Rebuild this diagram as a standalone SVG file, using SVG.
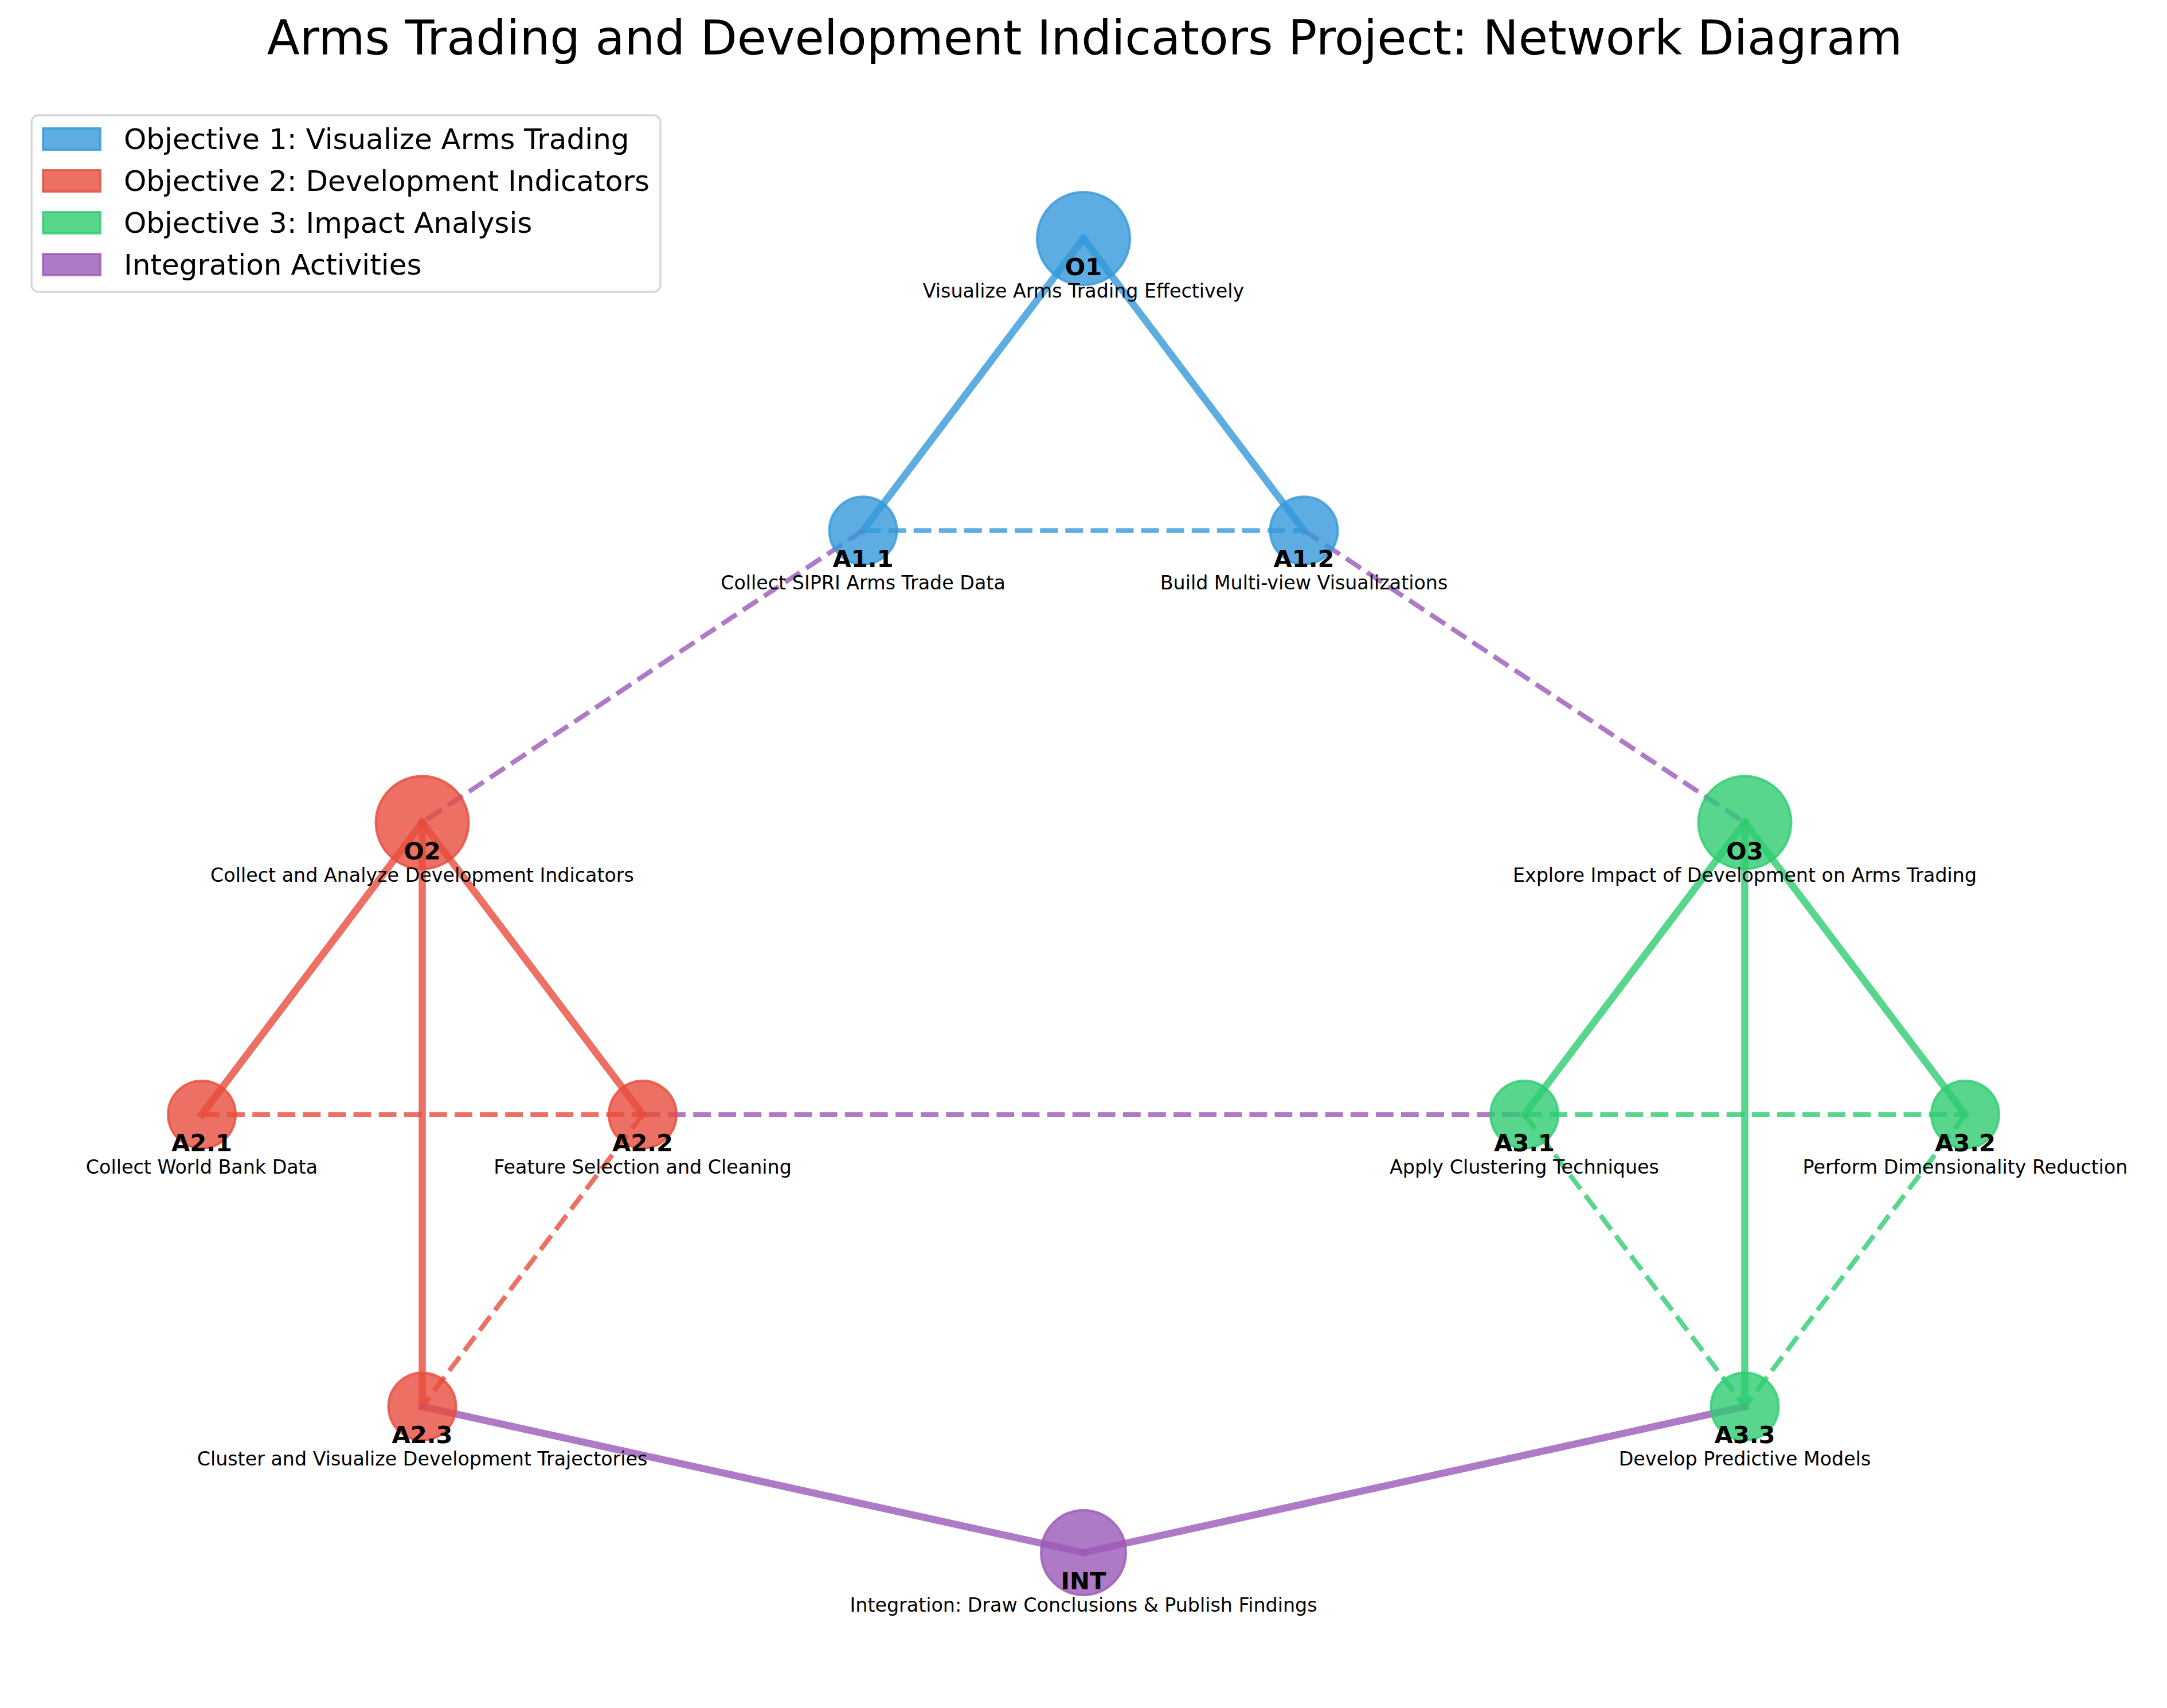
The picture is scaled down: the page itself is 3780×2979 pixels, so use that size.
<svg xmlns="http://www.w3.org/2000/svg" width="3780" height="2979" viewBox="0 0 3780 2979">
<style>
.bg{fill:#ffffff}
.title{font-family:"DejaVu Sans",sans-serif;font-size:83.3px;fill:#000;text-anchor:middle}
.id{font-family:"DejaVu Sans",sans-serif;font-size:41.7px;font-weight:bold;fill:#000;text-anchor:middle}
.desc{font-family:"DejaVu Sans",sans-serif;font-size:33.3px;fill:#000;text-anchor:middle}
.leg{font-family:"DejaVu Sans",sans-serif;font-size:50px;fill:#000}
.solid{fill:none;stroke-width:12.5;stroke-opacity:0.8;stroke-linecap:square}
.dash{fill:none;stroke-width:8.33;stroke-opacity:0.8;stroke-dasharray:30.8 13.3;stroke-linecap:butt}
.blue{stroke:#3498db}
.red{stroke:#e74c3c}
.green{stroke:#2ecc71}
.purple{stroke:#9b59b6}
.nb{fill:#3498db;stroke:#3498db}
.nr{fill:#e74c3c;stroke:#e74c3c}
.ng{fill:#2ecc71;stroke:#2ecc71}
.np{fill:#9b59b6;stroke:#9b59b6}
.node{fill-opacity:0.8;stroke-opacity:0.8;stroke-width:4}
</style>
<rect class="bg" x="0" y="0" width="3780" height="2979"/>
<text class="title" x="1892" y="95">Arms Trading and Development Indicators Project: Network Diagram</text>
<g id="connectors">
<line class="solid blue" x1="1890" y1="416" x2="1505.5" y2="925.3"/>
<line class="solid blue" x1="1890" y1="416" x2="2274.5" y2="925.3"/>
<line class="dash blue" x1="1505.5" y1="925.3" x2="2274.5" y2="925.3"/>
<line class="dash purple" x1="1505.5" y1="925.3" x2="736.5" y2="1434.6"/>
<line class="dash purple" x1="2274.5" y1="925.3" x2="3043.5" y2="1434.6"/>
<line class="solid red" x1="736.5" y1="1434.6" x2="352" y2="1943.9"/>
<line class="solid red" x1="736.5" y1="1434.6" x2="1121" y2="1943.9"/>
<line class="solid red" x1="736.5" y1="1434.6" x2="736.5" y2="2453.2"/>
<line class="dash red" x1="352" y1="1943.9" x2="1121" y2="1943.9"/>
<line class="dash red" x1="1121" y1="1943.9" x2="736.5" y2="2453.2"/>
<line class="dash purple" x1="1121" y1="1943.9" x2="2659" y2="1943.9"/>
<line class="solid green" x1="3043.5" y1="1434.6" x2="2659" y2="1943.9"/>
<line class="solid green" x1="3043.5" y1="1434.6" x2="3428" y2="1943.9"/>
<line class="solid green" x1="3043.5" y1="1434.6" x2="3043.5" y2="2453.2"/>
<line class="dash green" x1="2659" y1="1943.9" x2="3428" y2="1943.9"/>
<line class="dash green" x1="2659" y1="1943.9" x2="3043.5" y2="2453.2"/>
<line class="dash green" x1="3428" y1="1943.9" x2="3043.5" y2="2453.2"/>
<line class="solid purple" x1="736.5" y1="2453.2" x2="1890" y2="2707.9"/>
<line class="solid purple" x1="3043.5" y1="2453.2" x2="1890" y2="2707.9"/>
</g>
<g id="node-O1"><circle class="node nb" cx="1890" cy="416" r="81"/><text class="id" x="1890" y="480">O1</text><text class="desc" x="1890" y="519">Visualize Arms Trading Effectively</text></g>
<g id="node-A1.1"><circle class="node nb" cx="1505.5" cy="925.3" r="59"/><text class="id" x="1505.5" y="989.3">A1.1</text><text class="desc" x="1505.5" y="1028.3">Collect SIPRI Arms Trade Data</text></g>
<g id="node-A1.2"><circle class="node nb" cx="2274.5" cy="925.3" r="59"/><text class="id" x="2274.5" y="989.3">A1.2</text><text class="desc" x="2274.5" y="1028.3">Build Multi-view Visualizations</text></g>
<g id="node-O2"><circle class="node nr" cx="736.5" cy="1434.6" r="81"/><text class="id" x="736.5" y="1498.6">O2</text><text class="desc" x="736.5" y="1537.6">Collect and Analyze Development Indicators</text></g>
<g id="node-O3"><circle class="node ng" cx="3043.5" cy="1434.6" r="81"/><text class="id" x="3043.5" y="1498.6">O3</text><text class="desc" x="3043.5" y="1537.6">Explore Impact of Development on Arms Trading</text></g>
<g id="node-A2.1"><circle class="node nr" cx="352" cy="1943.9" r="59"/><text class="id" x="352" y="2007.9">A2.1</text><text class="desc" x="352" y="2046.9">Collect World Bank Data</text></g>
<g id="node-A2.2"><circle class="node nr" cx="1121" cy="1943.9" r="59"/><text class="id" x="1121" y="2007.9">A2.2</text><text class="desc" x="1121" y="2046.9">Feature Selection and Cleaning</text></g>
<g id="node-A3.1"><circle class="node ng" cx="2659" cy="1943.9" r="59"/><text class="id" x="2659" y="2007.9">A3.1</text><text class="desc" x="2659" y="2046.9">Apply Clustering Techniques</text></g>
<g id="node-A3.2"><circle class="node ng" cx="3428" cy="1943.9" r="59"/><text class="id" x="3428" y="2007.9">A3.2</text><text class="desc" x="3428" y="2046.9">Perform Dimensionality Reduction</text></g>
<g id="node-A2.3"><circle class="node nr" cx="736.5" cy="2453.2" r="59"/><text class="id" x="736.5" y="2517.2">A2.3</text><text class="desc" x="736.5" y="2556.2">Cluster and Visualize Development Trajectories</text></g>
<g id="node-A3.3"><circle class="node ng" cx="3043.5" cy="2453.2" r="59"/><text class="id" x="3043.5" y="2517.2">A3.3</text><text class="desc" x="3043.5" y="2556.2">Develop Predictive Models</text></g>
<g id="node-INT"><circle class="node np" cx="1890" cy="2707.9" r="74"/><text class="id" x="1890" y="2771.9">INT</text><text class="desc" x="1890" y="2810.9">Integration: Draw Conclusions &amp; Publish Findings</text></g>
<g id="legend">
<rect x="55" y="201" width="1097" height="308" rx="12" ry="12" fill="#ffffff" fill-opacity="0.8" stroke="#cccccc" stroke-opacity="0.8" stroke-width="3.3"/>
<rect class="node nb" x="75" y="224" width="100" height="37"/>
<text class="leg" x="216" y="260">Objective 1: Visualize Arms Trading</text>
<rect class="node nr" x="75" y="297" width="100" height="37"/>
<text class="leg" x="216" y="333">Objective 2: Development Indicators</text>
<rect class="node ng" x="75" y="370" width="100" height="37"/>
<text class="leg" x="216" y="406">Objective 3: Impact Analysis</text>
<rect class="node np" x="75" y="443" width="100" height="37"/>
<text class="leg" x="216" y="479">Integration Activities</text>
</g>
</svg>
